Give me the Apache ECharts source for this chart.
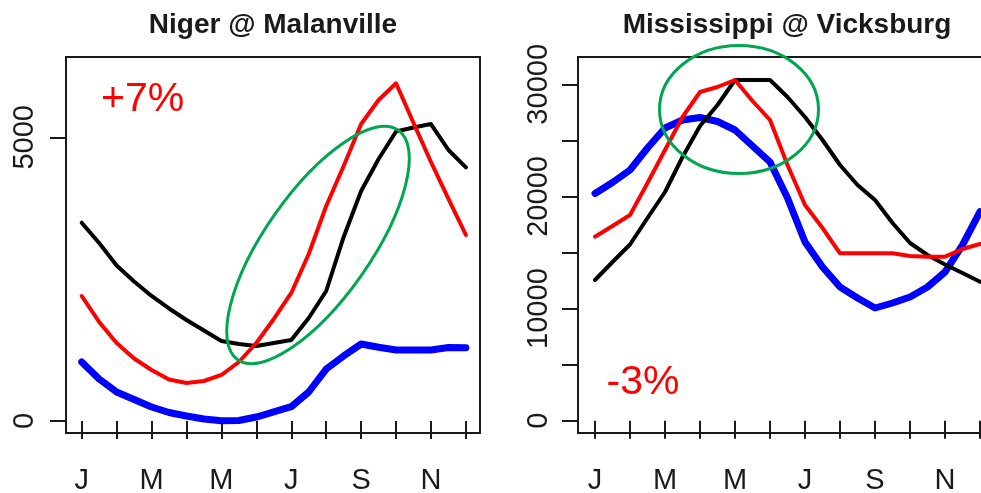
<!DOCTYPE html>
<html>
<head>
<meta charset="utf-8">
<script src="https://cdn.jsdelivr.net/npm/echarts@6/dist/echarts.min.js"></script>
<style>
html,body{margin:0;padding:0;background:#fff;}
#chart{width:981px;height:493px;}
</style>
</head>
<body>
<div id="chart"></div>
<script>
// ---- data ----
const monthLetters = ['J','F','M','A','M','J','J','A','S','O','N','D'];
const monthTicks = [1,2,3,4,5,6,7,8,9,10,11,12];
const monthLabelTicks = [1,3,5,7,9,11];
const xs = [1,1.5,2,2.5,3,3.5,4,4.5,5,5.5,6,6.5,7,7.5,8,8.5,9,9.5,10,10.5,11,11.5,12];

const nigerTitle = 'Niger @ Malanville';
const nigerBlack = [3495,3137,2741,2459,2203,1983,1780,1595,1410,1357,1322,1375,1428,1815,2291,3243,4054,4618,5102,5173,5234,4776,4471];
const nigerRed   = [2203,1745,1375,1102,899,731,670,705,811,1040,1375,1798,2256,2943,3789,4494,5234,5658,5952,5252,4565,3913,3278];
const nigerBlue  = [1040,740,511,379,247,150,88,35,5,9,70,159,252,511,916,1146,1357,1299,1251,1251,1251,1295,1292];
const nigerYTicks = [0,5000];
const nigerYLabels = [0,5000];
const nigerNote = '+7%';

const missTitle = 'Mississippi @ Vicksburg';
const missBlack = [12548,14153,15714,18077,20396,23518,26282,28155,30384,30384,30384,28868,27085,25033,22804,21020,19683,17632,15848,14777,13930,13172,12396];
const missRed   = [16410,17364,18345,21199,24142,27085,29314,29760,30384,28512,26817,22804,19237,17185,14929,14929,14929,14929,14688,14626,14626,15313,15759];
const missBlue  = [20262,21243,22358,24320,26104,26817,27040,26683,25925,24498,23071,19861,15937,13707,11923,10942,10051,10497,11032,11923,13261,15669,18639];
const missYTicks = [0,5000,10000,15000,20000,25000,30000];
const missYLabels = [0,10000,20000,30000];
const missNote = '-3%';

// ---- build ----
function pairs(arr){ return xs.map((x,i)=>[x, arr[i]]); }
const ink = '#1a1a1a';
const font = 'Liberation Sans, Arial, Helvetica, sans-serif';

function xAxisDef(gi, min, max){
  return {
    type:'value', gridIndex:gi, min:min, max:max,
    axisLine:{show:false},
    splitLine:{show:false},
    axisTick:{show:true, customValues:monthTicks, length:18, lineStyle:{color:ink, width:2}},
    axisLabel:{show:true, customValues:monthLabelTicks, margin:33, fontSize:29, lineHeight:29,
      fontFamily:font, color:ink, formatter:(v)=>monthLetters[Math.round(v)-1]}
  };
}
function yAxisDef(gi, min, max, ticks, labels, margin){
  return {
    type:'value', gridIndex:gi, min:min, max:max,
    axisLine:{show:false},
    splitLine:{show:false},
    axisTick:{show:true, customValues:ticks, length:16, lineStyle:{color:ink, width:2}},
    axisLabel:{show:true, customValues:labels, rotate:90, margin:margin, fontSize:29, lineHeight:29,
      fontFamily:font, color:ink, formatter:(v)=>String(v)}
  };
}
function lineSeries(gi, arr, color, width, z){
  return {
    type:'line', xAxisIndex:gi, yAxisIndex:gi, data:pairs(arr),
    showSymbol:false, symbol:'none', silent:true, animation:false, z:z,
    lineStyle:{color:color, width:width, cap:'round', join:'round'}
  };
}

const chart = echarts.init(document.getElementById('chart'), null, {renderer:'canvas'});
const green = '#00A650';
chart.setOption({
  animation:false,
  backgroundColor:'#ffffff',
  grid:[
    {left:66, top:57, width:414, height:376, show:true, borderColor:ink, borderWidth:2, backgroundColor:'transparent', containLabel:false, outerBoundsMode:'none'},
    {left:578, top:57, width:417, height:376, show:true, borderColor:ink, borderWidth:2, backgroundColor:'transparent', containLabel:false, outerBoundsMode:'none'}
  ],
  xAxis:[ xAxisDef(0, 0.5505, 12.403), xAxisDef(1, 0.514, 12.428) ],
  yAxis:[ yAxisDef(0, -211.5, 6415, nigerYTicks, nigerYLabels, 27),
          yAxisDef(1, -1097, 32435, missYTicks, missYLabels, 24.5) ],
  series:[
    lineSeries(0, nigerBlue, '#0000ff', 7, 2),
    lineSeries(0, nigerBlack, '#000000', 4, 3),
    lineSeries(0, nigerRed, '#ff0000', 4, 4),
    lineSeries(1, missBlue, '#0000ff', 7, 2),
    lineSeries(1, missBlack, '#000000', 4, 3),
    lineSeries(1, missRed, '#ff0000', 4, 4)
  ],
  graphic:[
    {type:'text', x:273, y:25, z:100, style:{text:nigerTitle, font:'bold 28px '+font, fill:ink, align:'center', verticalAlign:'middle', textAlign:'center', textVerticalAlign:'middle'}},
    {type:'text', x:787, y:25, z:100, style:{text:missTitle, font:'bold 28px '+font, fill:ink, align:'center', verticalAlign:'middle', textAlign:'center', textVerticalAlign:'middle'}},
    {type:'text', x:101, y:100, z:100, style:{text:nigerNote, font:'41px '+font, fill:'#ff0000', align:'left', verticalAlign:'middle', textAlign:'left', textVerticalAlign:'middle'}},
    {type:'text', x:606.5, y:382.5, z:100, style:{text:missNote, font:'41px '+font, fill:'#ff0000', align:'left', verticalAlign:'middle', textAlign:'left', textVerticalAlign:'middle'}},
    {type:'ellipse', x:318, y:245, rotation:55*Math.PI/180, z:120, shape:{cx:0, cy:0, rx:140, ry:53}, style:{fill:'none', stroke:green, lineWidth:3}},
    {type:'ellipse', x:739, y:109.5, z:120, shape:{cx:0, cy:0, rx:79.5, ry:64}, style:{fill:'none', stroke:green, lineWidth:3}}
  ]
});
</script>
</body>
</html>
